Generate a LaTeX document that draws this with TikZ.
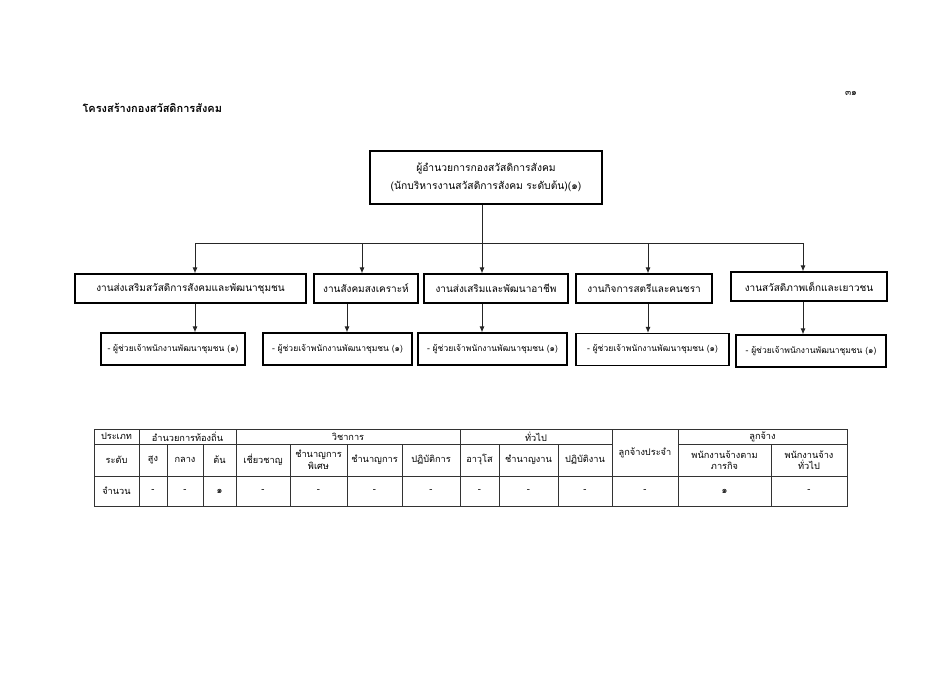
\documentclass[tikz,border=0pt]{standalone}
\usepackage{fontspec}
\setmainfont[Script=Thai]{Loma}
\usetikzlibrary{arrows.meta}
\begin{document}
\begin{tikzpicture}[x=1pt,y=-1pt,
  box/.style={draw=black,line width=1.1pt,fill=white,inner sep=0pt,align=center},
  lvtwo/.style={box,minimum height=29pt,font=\fontsize{10}{12}\selectfont},
  lvthree/.style={box,minimum height=32pt,font=\fontsize{8.5}{10}\selectfont},
  conn/.style={line width=1pt,draw=black!85},
  arr/.style={conn,-{Latex[length=6pt,width=5pt]}},
  cell/.style={inner sep=0pt,align=center,font=\fontsize{9.2}{11.5}\selectfont},
  tline/.style={line width=0.6pt,draw=black!80}
]
\useasboundingbox[fill=white] (0,0) rectangle (950,672);

\node[font=\fontsize{9}{10}\selectfont] (pg) at (851,93) {๓๑};
\node[anchor=west,font=\bfseries\fontsize{11}{13}\selectfont] (title) at (79,108) {โครงสร้างกองสวัสดิการสังคม};

% top box
\node[box,minimum width=232pt,minimum height=53pt,font=\fontsize{10.3}{18}\selectfont] (top) at (486,177.5)
  {ผู้อำนวยการกองสวัสดิการสังคม\\(นักบริหารงานสวัสดิการสังคม ระดับต้น)(๑)};

% level 2
\node[lvtwo,minimum width=231pt] (b1) at (190.5,288.5) {งานส่งเสริมสวัสดิการสังคมและพัฒนาชุมชน};
\node[lvtwo,minimum width=104pt] (b2) at (366,288.5) {งานสังคมสงเคราะห์};
\node[lvtwo,minimum width=144pt] (b3) at (496,288.5) {งานส่งเสริมและพัฒนาอาชีพ};
\node[lvtwo,minimum width=136pt] (b4) at (644,288.5) {งานกิจการสตรีและคนชรา};
\node[lvtwo,minimum width=156pt] (b5) at (809,286.5) {งานสวัสดิภาพเด็กและเยาวชน};

% level 3
\node[lvthree,minimum width=144pt] (c1) at (173,349) {- ผู้ช่วยเจ้าพนักงานพัฒนาชุมชน (๑)};
\node[lvthree,minimum width=149pt] (c2) at (337.5,349) {- ผู้ช่วยเจ้าพนักงานพัฒนาชุมชน (๑)};
\node[lvthree,minimum width=149pt] (c3) at (492.5,349) {- ผู้ช่วยเจ้าพนักงานพัฒนาชุมชน (๑)};
\node[lvthree,minimum width=153pt] (c4) at (652.5,349.5) {- ผู้ช่วยเจ้าพนักงานพัฒนาชุมชน (๑)};
\node[lvthree,minimum width=150pt] (c5) at (811,351) {- ผู้ช่วยเจ้าพนักงานพัฒนาชุมชน (๑)};

% bus coordinates
\coordinate (t) at (482,243);
\coordinate (j1) at (195,243);
\coordinate (j2) at (362,243);
\coordinate (j3) at (482,243);
\coordinate (j4) at (648,243);
\coordinate (j5) at (803,243);
\coordinate (x1) at (195,0);
\coordinate (x2) at (347,0);
\coordinate (x3) at (482,0);
\coordinate (x4) at (648,0);
\coordinate (x5) at (803,0);

\draw[conn] (top.south -| t) -- (t);
\draw[conn] (j1) -- (j5);
\draw[arr] (j1) -- (j1 |- b1.north);
\draw[arr] (j2) -- (j2 |- b2.north);
\draw[arr] (j3) -- (j3 |- b3.north);
\draw[arr] (j4) -- (j4 |- b4.north);
\draw[arr] (j5) -- (j5 |- b5.north);

\draw[arr] (b1.south -| x1) -- (c1.north -| x1);
\draw[arr] (b2.south -| x2) -- (c2.north -| x2);
\draw[arr] (b3.south -| x3) -- (c3.north -| x3);
\draw[arr] (b4.south -| x4) -- (c4.north -| x4);
\draw[arr] (b5.south -| x5) -- (c5.north -| x5);

% table
\draw[tline,line width=0.9pt] (94,429) rectangle (847,506);
\draw[tline] (94,444) -- (612,444);
\draw[tline] (678,444) -- (847,444);
\draw[tline] (94,476) -- (847,476);
\foreach \x in {139,236,460,612,678} {\draw[tline] (\x,429) -- (\x,506);}
\foreach \x in {167,203,290,347,402,499,558,771} {\draw[tline] (\x,444) -- (\x,506);}

% row 1
\node[cell] (h1) at (116.5,436.5) {ประเภท};
\node[cell] (h2) at (187.5,436.5) {อำนวยการท้องถิ่น};
\node[cell] (h3) at (348,436.5) {วิชาการ};
\node[cell] (h4) at (536,436.5) {ทั่วไป};
\node[cell] (h5) at (645,452.5) {ลูกจ้างประจำ};
\node[cell] (h6) at (762.5,436.5) {ลูกจ้าง};
% row 2
\node[cell] (r1) at (116.5,460) {ระดับ};
\node[cell] (r2) at (153,460) {สูง};
\node[cell] (r3) at (185,460) {กลาง};
\node[cell] (r4) at (219.5,460) {ต้น};
\node[cell] (r5) at (263,460) {เชี่ยวชาญ};
\node[cell] (r6) at (318.5,460) {ชำนาญการ\\พิเศษ};
\node[cell] (r7) at (374.5,460) {ชำนาญการ};
\node[cell] (r8) at (431,460) {ปฏิบัติการ};
\node[cell] (r9) at (479.5,460) {อาวุโส};
\node[cell] (r10) at (528.5,460) {ชำนาญงาน};
\node[cell] (r11) at (585,460) {ปฏิบัติงาน};
\node[cell] (r12) at (724.5,460) {พนักงานจ้างตาม\\ภารกิจ};
\node[cell] (r13) at (809,460) {พนักงานจ้าง\\ทั่วไป};
% row 3
\node[cell] (n1) at (116.5,491) {จำนวน};
\node[cell] (n2) at (153,491) {-};
\node[cell] (n3) at (185,491) {-};
\node[cell] (n4) at (219.5,491) {๑};
\node[cell] (n5) at (263,491) {-};
\node[cell] (n6) at (318.5,491) {-};
\node[cell] (n7) at (374.5,491) {-};
\node[cell] (n8) at (431,491) {-};
\node[cell] (n9) at (479.5,491) {-};
\node[cell] (n10) at (528.5,491) {-};
\node[cell] (n11) at (585,491) {-};
\node[cell] (n12) at (645,491) {-};
\node[cell] (n13) at (724.5,491) {๑};
\node[cell] (n14) at (809,491) {-};
\end{tikzpicture}
\end{document}
